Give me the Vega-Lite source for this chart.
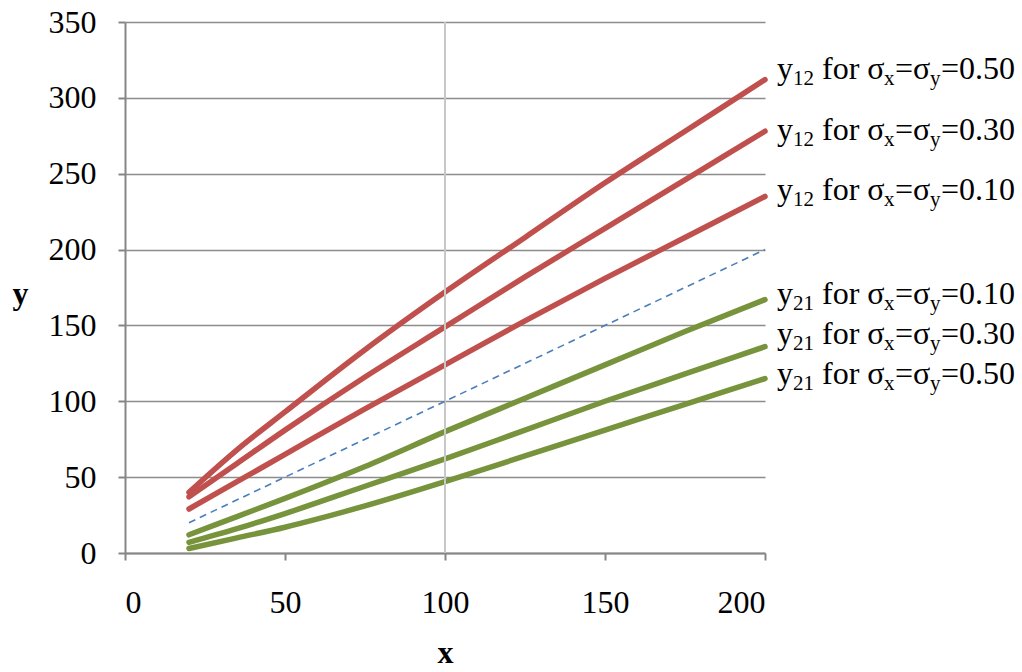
{
  "$schema": "https://vega.github.io/schema/vega-lite/v6.json",
  "width": 640,
  "height": 531,
  "autosize": {"type": "none"},
  "padding": {"left": 125, "top": 22, "right": 257, "bottom": 119},
  "background": "white",
  "config": {"view": {"stroke": null}, "font": "Liberation Serif", "mark": {"font": "Liberation Serif"}, "text": {"font": "Liberation Serif"}},
  "datasets": {
    "lines": [
      {"series": "r50", "x": 20, "y": 40}, {"series": "r50", "x": 35, "y": 68}, {"series": "r50", "x": 50, "y": 93}, {"series": "r50", "x": 75, "y": 134}, {"series": "r50", "x": 100, "y": 172}, {"series": "r50", "x": 125, "y": 208}, {"series": "r50", "x": 150, "y": 244}, {"series": "r50", "x": 175, "y": 278}, {"series": "r50", "x": 200, "y": 312},
      {"series": "r30", "x": 20, "y": 37}, {"series": "r30", "x": 35, "y": 59}, {"series": "r30", "x": 50, "y": 81}, {"series": "r30", "x": 75, "y": 116}, {"series": "r30", "x": 100, "y": 149}, {"series": "r30", "x": 125, "y": 182}, {"series": "r30", "x": 150, "y": 214}, {"series": "r30", "x": 175, "y": 246}, {"series": "r30", "x": 200, "y": 278},
      {"series": "r10", "x": 20, "y": 29}, {"series": "r10", "x": 35, "y": 47}, {"series": "r10", "x": 50, "y": 65}, {"series": "r10", "x": 75, "y": 95}, {"series": "r10", "x": 100, "y": 124}, {"series": "r10", "x": 125, "y": 153}, {"series": "r10", "x": 150, "y": 181}, {"series": "r10", "x": 175, "y": 208}, {"series": "r10", "x": 200, "y": 235},
      {"series": "g10", "x": 20, "y": 12}, {"series": "g10", "x": 35, "y": 24}, {"series": "g10", "x": 50, "y": 36}, {"series": "g10", "x": 75, "y": 57}, {"series": "g10", "x": 100, "y": 80}, {"series": "g10", "x": 125, "y": 102}, {"series": "g10", "x": 150, "y": 124}, {"series": "g10", "x": 175, "y": 146}, {"series": "g10", "x": 200, "y": 167},
      {"series": "g30", "x": 20, "y": 7}, {"series": "g30", "x": 35, "y": 16}, {"series": "g30", "x": 50, "y": 26}, {"series": "g30", "x": 75, "y": 44}, {"series": "g30", "x": 100, "y": 62}, {"series": "g30", "x": 125, "y": 81}, {"series": "g30", "x": 150, "y": 100}, {"series": "g30", "x": 175, "y": 118}, {"series": "g30", "x": 200, "y": 136},
      {"series": "g50", "x": 20, "y": 3}, {"series": "g50", "x": 35, "y": 10}, {"series": "g50", "x": 50, "y": 17}, {"series": "g50", "x": 75, "y": 31}, {"series": "g50", "x": 100, "y": 47}, {"series": "g50", "x": 125, "y": 64}, {"series": "g50", "x": 150, "y": 81}, {"series": "g50", "x": 175, "y": 98}, {"series": "g50", "x": 200, "y": 115}
    ],
    "diag": [{"x": 20, "y": 20}, {"x": 200, "y": 200}],
    "vmark": [{"x": 100}],
    "tags": [
      {"x": 200, "y": 312.4, "sub": "12", "val": "=0.50"},
      {"x": 200, "y": 272.2, "sub": "12", "val": "=0.30"},
      {"x": 200, "y": 232.7, "sub": "12", "val": "=0.10"},
      {"x": 200, "y": 164.1, "sub": "21", "val": "=0.10"},
      {"x": 200, "y": 137.8, "sub": "21", "val": "=0.30"},
      {"x": 200, "y": 111.4, "sub": "21", "val": "=0.50"}
    ]
  },
  "layer": [
    {"data": {"name": "lines"}, "mark": {"type": "line", "strokeWidth": 5.5, "strokeCap": "round", "interpolate": "monotone"},
      "encoding": {
        "x": {"field": "x", "type": "quantitative", "scale": {"domain": [0, 200], "nice": false},
          "axis": {"title": "x", "values": [0, 50, 100, 150, 200], "grid": false, "labelFont": "Liberation Serif", "labelFontSize": 32, "labelColor": "black", "labelPadding": 27, "tickSize": 7, "tickColor": "#868686", "tickWidth": 2, "domainColor": "#868686", "domainWidth": 2, "titleFont": "Liberation Serif", "titleFontSize": 32, "titleFontWeight": "bold", "titleColor": "black", "titleX": 320, "titleY": 99, "titleBaseline": "middle", "titleAlign": "center"}},
        "y": {"field": "y", "type": "quantitative", "scale": {"domain": [0, 350], "nice": false},
          "axis": {"title": "y", "values": [0, 50, 100, 150, 200, 250, 300, 350], "grid": true, "gridColor": "#8c8c8c", "gridWidth": 1.5, "labelFont": "Liberation Serif", "labelFontSize": 32, "labelColor": "black", "labelPadding": 22, "tickSize": 7, "tickColor": "#868686", "tickWidth": 2, "domainColor": "#868686", "domainWidth": 2, "titleFont": "Liberation Serif", "titleFontSize": 32, "titleFontWeight": "bold", "titleColor": "black", "titleAngle": 0, "titleX": -105, "titleY": 271, "titleBaseline": "middle", "titleAlign": "center"}},
        "color": {"field": "series", "type": "nominal", "legend": null,
          "scale": {"domain": ["r50", "r30", "r10", "g10", "g30", "g50"], "range": ["#c0504d", "#c0504d", "#c0504d", "#77933c", "#77933c", "#77933c"]}}}},
    {"data": {"name": "vmark"}, "mark": {"type": "rule", "color": "#c8c8c8", "strokeWidth": 2},
      "encoding": {"x": {"field": "x", "type": "quantitative"}}},
    {"data": {"name": "diag"}, "mark": {"type": "line", "color": "#4a7ebb", "strokeWidth": 1.6, "strokeDash": [7, 5]},
      "encoding": {"x": {"field": "x", "type": "quantitative"}, "y": {"field": "y", "type": "quantitative"}}},
    {"data": {"name": "tags"}, "mark": {"type": "text", "text": "y", "align": "left", "baseline": "alphabetic", "dx": 12, "fontSize": 32, "font": "Liberation Serif", "color": "black"},
      "encoding": {"x": {"field": "x", "type": "quantitative"}, "y": {"field": "y", "type": "quantitative"}}},
    {"data": {"name": "tags"}, "mark": {"type": "text", "align": "left", "baseline": "alphabetic", "dx": 28, "dy": 6, "fontSize": 21, "font": "Liberation Serif", "color": "black"},
      "encoding": {"x": {"field": "x", "type": "quantitative"}, "y": {"field": "y", "type": "quantitative"}, "text": {"field": "sub", "type": "nominal"}}},
    {"data": {"name": "tags"}, "mark": {"type": "text", "text": "for σ", "align": "left", "baseline": "alphabetic", "dx": 57, "fontSize": 32, "font": "Liberation Serif", "color": "black"},
      "encoding": {"x": {"field": "x", "type": "quantitative"}, "y": {"field": "y", "type": "quantitative"}}},
    {"data": {"name": "tags"}, "mark": {"type": "text", "text": "x", "align": "left", "baseline": "alphabetic", "dx": 119, "dy": 6, "fontSize": 21, "font": "Liberation Serif", "color": "black"},
      "encoding": {"x": {"field": "x", "type": "quantitative"}, "y": {"field": "y", "type": "quantitative"}}},
    {"data": {"name": "tags"}, "mark": {"type": "text", "text": "=σ", "align": "left", "baseline": "alphabetic", "dx": 130, "fontSize": 32, "font": "Liberation Serif", "color": "black"},
      "encoding": {"x": {"field": "x", "type": "quantitative"}, "y": {"field": "y", "type": "quantitative"}}},
    {"data": {"name": "tags"}, "mark": {"type": "text", "text": "y", "align": "left", "baseline": "alphabetic", "dx": 165, "dy": 6, "fontSize": 21, "font": "Liberation Serif", "color": "black"},
      "encoding": {"x": {"field": "x", "type": "quantitative"}, "y": {"field": "y", "type": "quantitative"}}},
    {"data": {"name": "tags"}, "mark": {"type": "text", "align": "left", "baseline": "alphabetic", "dx": 176, "fontSize": 32, "font": "Liberation Serif", "color": "black"},
      "encoding": {"x": {"field": "x", "type": "quantitative"}, "y": {"field": "y", "type": "quantitative"}, "text": {"field": "val", "type": "nominal"}}}
  ]
}
